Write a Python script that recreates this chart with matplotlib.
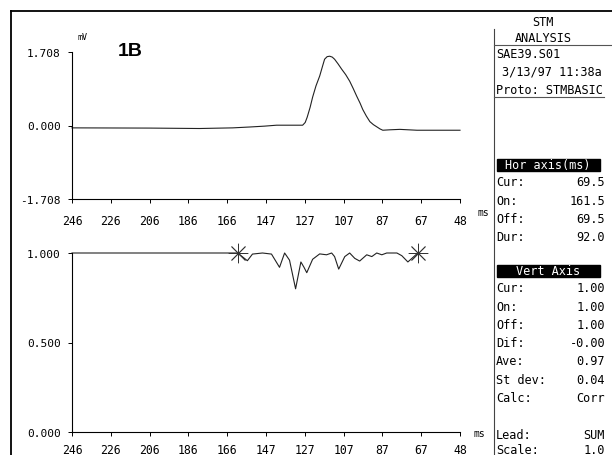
import numpy as np
import matplotlib
matplotlib.use("Agg")
import matplotlib.pyplot as plt
from matplotlib.lines import Line2D
from matplotlib.patches import Rectangle

W, H = 612, 456
MONO = "DejaVu Sans Mono"

# time axis in ms, drawn right-to-left like the recorder screen
ms_ticks = np.linspace(246, 48, 11)
ms_labels = ["246", "226", "206", "186", "166", "147", "127", "107", "87", "67", "48"]

# averaged signal (mV)
sig_ms = [246, 206.6, 181, 164, 155.4, 147.8, 141.6, 135, 128.3, 127.0, 126.0,
          124.5, 123.2, 121.5, 119.6, 118.2, 117.1, 115.8, 114.5, 113.2, 112,
          110.2, 108.4, 106.3, 104.3, 102.5, 100.7, 99.0, 97.6, 95.8, 94,
          92.2, 90.5, 88.8, 87.4, 83.8, 78.7, 70, 60, 48]
sig_mv = [-0.055, -0.06, -0.07, -0.055, -0.035, -0.015, 0.007, 0.007, 0.007, 0.07, 0.19,
          0.42, 0.66, 0.92, 1.15, 1.37, 1.54, 1.60, 1.61, 1.59, 1.54,
          1.43, 1.31, 1.18, 1.03, 0.86, 0.68, 0.52, 0.37, 0.22, 0.09,
          0.02, -0.03, -0.08, -0.11, -0.10, -0.09, -0.11, -0.11, -0.11]

# correlation trace
corr_ms = [246, 161.5, 156.5, 153.9, 148.8, 144.2, 140.1, 137.5, 135.0, 131.9,
           129.2, 127.6, 126.2, 123.2, 119.6, 116.1, 113.5, 112.0, 109.9, 106.8,
           104.3, 101.7, 99.2, 95.6, 93.0, 90.5, 87.9, 85.4, 80.2, 77.7, 74.6,
           69.5, 48]
corr = [1.0, 1.0, 0.957, 0.994, 1.0, 0.994, 0.92, 1.0, 0.96, 0.80,
        0.95, 0.92, 0.89, 0.965, 0.995, 0.99, 1.0, 0.98, 0.91, 0.98,
        1.0, 0.97, 0.955, 0.99, 0.98, 1.0, 0.99, 1.0, 1.0, 0.985, 0.95,
        1.0, 1.0]
on_ms, off_ms = 161.5, 69.5

# side panel readouts
hor_rows = [("Cur:", "69.5"), ("On:", "161.5"), ("Off:", "69.5"), ("Dur:", "92.0")]
vert_rows = [("Cur:", "1.00"), ("On:", "1.00"), ("Off:", "1.00"), ("Dif:", "-0.00"),
             ("Ave:", "0.97"), ("St dev:", "0.04"), ("Calc:", "Corr")]
lead_rows = [("Lead:", "SUM"), ("Scale:", "1.0")]


def fx(px):
    return px / W


def fy(py):
    return 1 - py / H


def style_axis(ax, yticks, ylabels):
    for s in ("top", "right"):
        ax.spines[s].set_visible(False)
    for s in ("left", "bottom"):
        ax.spines[s].set_linewidth(0.8)
    ax.set_xlim(246, 48)
    ax.set_xticks(ms_ticks)
    ax.set_xticklabels(ms_labels, family=MONO, fontsize=8.3)
    ax.set_yticks(yticks)
    ax.set_yticklabels(ylabels, family=MONO, fontsize=8)
    ax.tick_params(axis="both", length=3, width=0.7)
    ax.tick_params(axis="y", pad=5)


fig = plt.figure(figsize=(W / 100, H / 100), dpi=100)

# upper panel: signal
ax1 = fig.add_axes([fx(72), fy(200), fx(460) - fx(72), fy(53) - fy(200)])
ax1.plot(sig_ms, sig_mv, color="#222222", lw=0.8)
ax1.set_ylim(-1.708, 1.708)
style_axis(ax1, [1.708, 0.0, -1.708], ["1.708", "0.000", "-1.708"])
ax1.tick_params(axis="x", pad=8)

# lower panel: correlation
ax2 = fig.add_axes([fx(72), fy(433), fx(460) - fx(72), fy(254) - fy(433)])
c_ms = np.array(corr_ms)
c_v = np.array(corr)
main = c_ms >= off_ms
ax2.plot(c_ms[main], c_v[main], color="#222222", lw=0.8)
ax2.plot(c_ms[~main], c_v[~main], color="#8a8a8a", lw=0.9)
ax2.plot([on_ms, off_ms], [1.0, 1.0], ls="none", marker=(8, 2, 0),
         ms=14, mew=0.6, color="#333333")
ax2.set_ylim(0, 1.0)
style_axis(ax2, [1.0, 0.5, 0.0], ["1.000", "0.500", "0.000"])
ax2.tick_params(axis="x", pad=5)
for a in (ax1, ax2):
    for ln in a.lines:
        ln.set_clip_on(False)

# axis units and plot tag
fig.text(fx(77), fy(38), "mV", family=MONO, fontsize=6, va="center")
fig.text(fx(478), fy(213), "ms", family=MONO, fontsize=7, va="center")
fig.text(fx(474), fy(434), "ms", family=MONO, fontsize=7, va="center")
fig.text(fx(118), fy(52), "1B", family="Liberation Sans", fontsize=14,
         fontweight="bold", va="center")

# outer frame and panel divider
fig.add_artist(Line2D([fx(11), fx(11)], [fy(12), 0], color="black", lw=1.3))
fig.add_artist(Line2D([fx(11), 1], [fy(12), fy(12)], color="black", lw=1.3))
fig.add_artist(Line2D([fx(494), fx(494)], [fy(30), 0], color="#444444", lw=0.8))
fig.add_artist(Line2D([fx(494), 1], [fy(46), fy(46)], color="#555555", lw=0.8))
fig.add_artist(Line2D([fx(494), fx(604)], [fy(98), fy(98)], color="#555555", lw=0.8))

# side panel header
tk = dict(family=MONO, fontsize=8.6, va="center")
fig.text(fx(543), fy(22), "STM", ha="center", **tk)
fig.text(fx(543), fy(38), "ANALYSIS", ha="center", **tk)
fig.text(fx(496), fy(55), "SAE39.S01", ha="left", **tk)
fig.text(fx(502), fy(72), "3/13/97 11:38a", ha="left", **tk)
fig.text(fx(496), fy(90), "Proto: STMBASIC", ha="left", **tk)


def block(title, top, rows):
    fig.add_artist(Rectangle((fx(497), fy(top + 6)), fx(600) - fx(497), fy(top - 6) - fy(top + 6),
                             transform=fig.transFigure, color="black"))
    fig.text(fx(548), fy(top), title, ha="center", color="white", **tk)
    for i, (lab, val) in enumerate(rows):
        y = top + 17 + 18.2 * i
        fig.text(fx(496), fy(y), lab, ha="left", **tk)
        fig.text(fx(605), fy(y), val, ha="right", **tk)


block("Hor axis(ms)", 166, hor_rows)
block("Vert Axis", 272, vert_rows)
for i, (lab, val) in enumerate(lead_rows):
    y = 436 + 14.5 * i
    fig.text(fx(496), fy(y), lab, ha="left", **tk)
    fig.text(fx(605), fy(y), val, ha="right", **tk)

fig.savefig("out.png", dpi=100)
